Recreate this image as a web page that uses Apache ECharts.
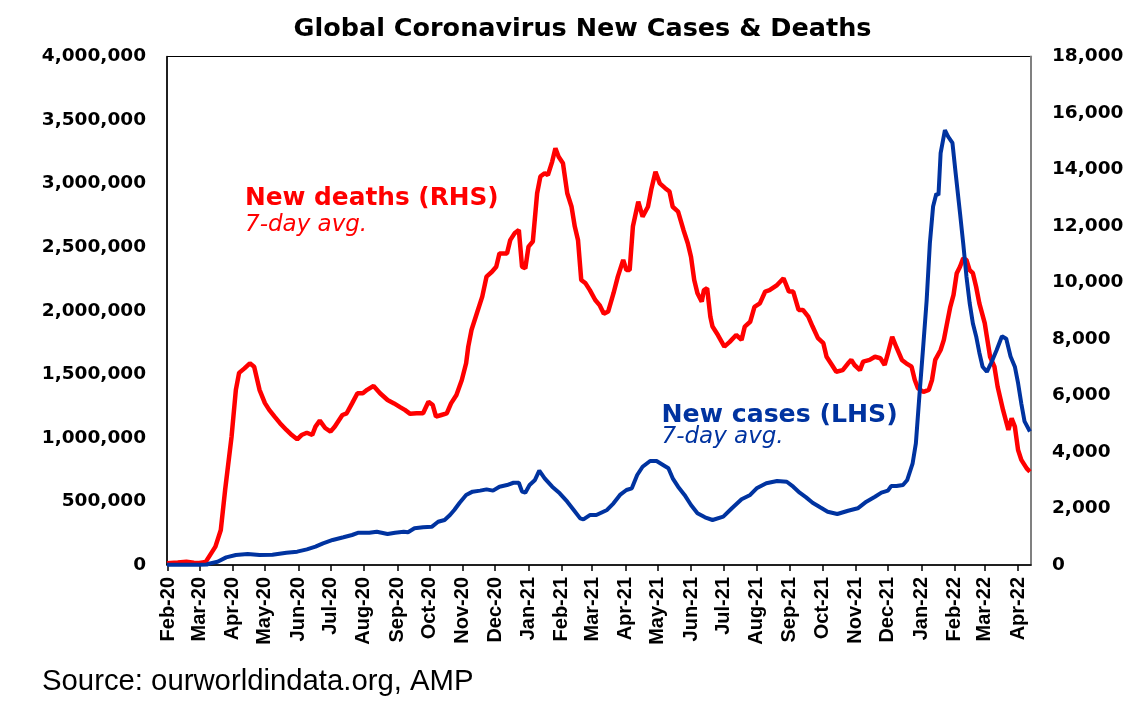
<!DOCTYPE html>
<html>
<head>
<meta charset="utf-8">
<script src="https://cdn.jsdelivr.net/npm/echarts@6.0.0/dist/echarts.min.js"></script>
<style>
  html, body { margin: 0; padding: 0; background: #fff; }
  #chart { width: 1142px; height: 718px; }
</style>
</head>
<body>
<div id="chart"></div>
<script>
// daily categories from 31 Jan 2020 to 13 Apr 2022
var firstDay = Date.UTC(2020, 0, 31);
var lastDay = Date.UTC(2022, 3, 13);
var days = [];
for (var t = firstDay; t <= lastDay; t += 86400000) {
  days.push(new Date(t).toISOString().slice(0, 10));
}
var monthNames = ['Jan', 'Feb', 'Mar', 'Apr', 'May', 'Jun', 'Jul', 'Aug', 'Sep', 'Oct', 'Nov', 'Dec'];

// new deaths, 7-day avg (RHS)
var deaths = [
  ['2020-01-31', 60], ['2020-02-10', 90], ['2020-02-18', 115], ['2020-02-25', 80], ['2020-03-01', 70],
  ['2020-03-07', 110], ['2020-03-16', 650], ['2020-03-21', 1240], ['2020-03-25', 2650], ['2020-03-31', 4540],
  ['2020-04-04', 6200], ['2020-04-07', 6800], ['2020-04-12', 6960], ['2020-04-17', 7140], ['2020-04-21', 7020],
  ['2020-04-26', 6200], ['2020-05-01', 5730], ['2020-05-05', 5490], ['2020-05-10', 5250], ['2020-05-15', 5020],
  ['2020-05-21', 4780], ['2020-05-26', 4600], ['2020-05-31', 4450], ['2020-06-04', 4600], ['2020-06-09', 4680],
  ['2020-06-14', 4600], ['2020-06-17', 4900], ['2020-06-21', 5110], ['2020-06-26', 4850], ['2020-07-01', 4720],
  ['2020-07-05', 4900], ['2020-07-12', 5310], ['2020-07-16', 5370], ['2020-07-21', 5720], ['2020-07-26', 6080],
  ['2020-07-31', 6080], ['2020-08-04', 6200], ['2020-08-10', 6340], ['2020-08-16', 6080], ['2020-08-23', 5840],
  ['2020-08-29', 5720], ['2020-09-04', 5580], ['2020-09-08', 5490], ['2020-09-13', 5350], ['2020-09-19', 5370],
  ['2020-09-25', 5370], ['2020-09-30', 5780], ['2020-10-04', 5660], ['2020-10-07', 5250], ['2020-10-12', 5310],
  ['2020-10-17', 5370], ['2020-10-21', 5720], ['2020-10-26', 6020], ['2020-10-31', 6550], ['2020-11-04', 7140],
  ['2020-11-06', 7730], ['2020-11-09', 8320], ['2020-11-14', 8910], ['2020-11-19', 9500], ['2020-11-23', 10210],
  ['2020-11-28', 10380], ['2020-12-02', 10560], ['2020-12-05', 11030], ['2020-12-12', 11030], ['2020-12-15', 11500],
  ['2020-12-19', 11740], ['2020-12-23', 11860], ['2020-12-26', 10560], ['2020-12-29', 10500], ['2021-01-01', 11270],
  ['2021-01-05', 11450], ['2021-01-09', 13160], ['2021-01-12', 13750], ['2021-01-16', 13870], ['2021-01-19', 13800],
  ['2021-01-23', 14280], ['2021-01-26', 14750], ['2021-01-29', 14450], ['2021-02-02', 14220], ['2021-02-06', 13160],
  ['2021-02-10', 12680], ['2021-02-13', 11980], ['2021-02-16', 11500], ['2021-02-19', 10090], ['2021-02-23', 9970],
  ['2021-02-27', 9730], ['2021-03-04', 9380], ['2021-03-08', 9200], ['2021-03-12', 8890], ['2021-03-16', 8970],
  ['2021-03-21', 9620], ['2021-03-25', 10210], ['2021-03-30', 10800], ['2021-04-02', 10440], ['2021-04-05', 10440],
  ['2021-04-08', 11980], ['2021-04-13', 12860], ['2021-04-17', 12330], ['2021-04-22', 12680], ['2021-04-25', 13280],
  ['2021-04-29', 13920], ['2021-05-03', 13510], ['2021-05-08', 13340], ['2021-05-12', 13220], ['2021-05-15', 12680],
  ['2021-05-20', 12510], ['2021-05-25', 11860], ['2021-05-29', 11390], ['2021-06-01', 10910], ['2021-06-04', 10090],
  ['2021-06-07', 9620], ['2021-06-11', 9320], ['2021-06-13', 9730], ['2021-06-16', 9800], ['2021-06-19', 8790],
  ['2021-06-21', 8440], ['2021-06-26', 8140], ['2021-07-02', 7730], ['2021-07-07', 7900], ['2021-07-13', 8140],
  ['2021-07-18', 7970], ['2021-07-21', 8440], ['2021-07-26', 8610], ['2021-07-30', 9140], ['2021-08-04', 9260],
  ['2021-08-09', 9680], ['2021-08-13', 9730], ['2021-08-20', 9910], ['2021-08-26', 10150], ['2021-08-31', 9680],
  ['2021-09-04', 9680], ['2021-09-09', 9030], ['2021-09-13', 9030], ['2021-09-18', 8790], ['2021-09-22', 8440],
  ['2021-09-27', 8030], ['2021-10-02', 7850], ['2021-10-05', 7370], ['2021-10-10', 7080], ['2021-10-14', 6840],
  ['2021-10-20', 6900], ['2021-10-25', 7140], ['2021-10-28', 7260], ['2021-10-31', 7080], ['2021-11-05', 6900],
  ['2021-11-08', 7200], ['2021-11-14', 7260], ['2021-11-19', 7370], ['2021-11-24', 7320], ['2021-11-28', 7080],
  ['2021-12-01', 7490], ['2021-12-05', 8080], ['2021-12-09', 7700], ['2021-12-14', 7260], ['2021-12-18', 7140],
  ['2021-12-23', 7020], ['2021-12-26', 6550], ['2021-12-29', 6250], ['2022-01-03', 6130], ['2022-01-08', 6200],
  ['2022-01-11', 6550], ['2022-01-14', 7260], ['2022-01-19', 7610], ['2022-01-22', 7970], ['2022-01-25', 8560],
  ['2022-01-28', 9140], ['2022-01-31', 9560], ['2022-02-03', 10330], ['2022-02-06', 10560], ['2022-02-09', 10860],
  ['2022-02-12', 10800], ['2022-02-15', 10440], ['2022-02-18', 10330], ['2022-02-21', 9850], ['2022-02-24', 9260],
  ['2022-03-01', 8560], ['2022-03-03', 8080], ['2022-03-06', 7370], ['2022-03-10', 7020], ['2022-03-13', 6310],
  ['2022-03-18', 5490], ['2022-03-23', 4780], ['2022-03-26', 5190], ['2022-03-29', 4900], ['2022-04-01', 4070],
  ['2022-04-04', 3720], ['2022-04-09', 3420], ['2022-04-12', 3300]
];

// new cases, 7-day avg (LHS)
var cases = [
  ['2020-01-31', 2000], ['2020-02-15', 2500], ['2020-03-01', 2000], ['2020-03-08', 4000], ['2020-03-11', 13000],
  ['2020-03-18', 26000], ['2020-03-26', 60000], ['2020-04-04', 79000], ['2020-04-15', 86000], ['2020-04-26', 79000],
  ['2020-05-08', 81000], ['2020-05-21', 97000], ['2020-05-31', 105000], ['2020-06-09', 123000], ['2020-06-17', 144000],
  ['2020-06-24', 170000], ['2020-07-03', 197000], ['2020-07-13', 218000], ['2020-07-21', 236000], ['2020-07-27', 254000],
  ['2020-08-06', 254000], ['2020-08-13', 262000], ['2020-08-23', 244000], ['2020-08-30', 254000], ['2020-09-07', 262000],
  ['2020-09-11', 258000], ['2020-09-17', 289000], ['2020-09-25', 297000], ['2020-10-03', 300000], ['2020-10-09', 340000],
  ['2020-10-15', 354000], ['2020-10-20', 393000], ['2020-10-24', 433000], ['2020-10-29', 490000], ['2020-11-04', 551000],
  ['2020-11-10', 577000], ['2020-11-17', 585000], ['2020-11-23', 595000], ['2020-11-29', 585000], ['2020-12-05', 616000],
  ['2020-12-12', 629000], ['2020-12-18', 647000], ['2020-12-23', 647000], ['2020-12-26', 577000], ['2020-12-29', 569000],
  ['2021-01-02', 629000], ['2021-01-07', 669000], ['2021-01-11', 742000], ['2021-01-16', 682000], ['2021-01-23', 616000],
  ['2021-01-30', 564000], ['2021-02-06', 498000], ['2021-02-12', 433000], ['2021-02-18', 367000], ['2021-02-21', 359000],
  ['2021-02-27', 393000], ['2021-03-05', 393000], ['2021-03-15', 433000], ['2021-03-21', 485000], ['2021-03-27', 551000],
  ['2021-04-02', 590000], ['2021-04-07', 603000], ['2021-04-12', 708000], ['2021-04-17', 773000], ['2021-04-24', 818000],
  ['2021-04-30', 818000], ['2021-05-06', 787000], ['2021-05-11', 761000], ['2021-05-15', 682000], ['2021-05-20', 616000],
  ['2021-05-26', 551000], ['2021-06-01', 472000], ['2021-06-07', 407000], ['2021-06-14', 375000], ['2021-06-21', 354000],
  ['2021-07-01', 380000], ['2021-07-09', 446000], ['2021-07-18', 517000], ['2021-07-26', 551000], ['2021-08-01', 603000],
  ['2021-08-10', 643000], ['2021-08-20', 661000], ['2021-08-29', 655000], ['2021-09-04', 616000], ['2021-09-10', 569000],
  ['2021-09-16', 532000], ['2021-09-22', 490000], ['2021-09-29', 454000], ['2021-10-06', 419000], ['2021-10-15', 401000],
  ['2021-10-25', 427000], ['2021-11-03', 446000], ['2021-11-11', 498000], ['2021-11-19', 537000], ['2021-11-25', 569000],
  ['2021-12-01', 585000], ['2021-12-04', 621000], ['2021-12-09', 621000], ['2021-12-15', 629000], ['2021-12-19', 669000],
  ['2021-12-24', 800000], ['2021-12-27', 957000], ['2021-12-30', 1300000], ['2022-01-03', 1740000], ['2022-01-06', 2080000],
  ['2022-01-09', 2530000], ['2022-01-12', 2820000], ['2022-01-15', 2920000], ['2022-01-17', 2910000], ['2022-01-19', 3240000],
  ['2022-01-23', 3420000], ['2022-01-26', 3370000], ['2022-01-30', 3320000], ['2022-02-02', 3080000], ['2022-02-06', 2770000],
  ['2022-02-09', 2530000], ['2022-02-12', 2270000], ['2022-02-15', 2060000], ['2022-02-18', 1900000], ['2022-02-21', 1800000],
  ['2022-02-24', 1670000], ['2022-02-27', 1560000], ['2022-03-03', 1520000], ['2022-03-07', 1590000], ['2022-03-12', 1690000],
  ['2022-03-17', 1800000], ['2022-03-21', 1780000], ['2022-03-25', 1640000], ['2022-03-29', 1560000], ['2022-04-01', 1430000],
  ['2022-04-04', 1270000], ['2022-04-07', 1130000], ['2022-04-12', 1050000]
];

var red = '#ff0000';
var blue = '#0033a0';
var boldFace = 'DejaVu Sans';

function isMonthStart(idx, value) {
  return value.slice(8, 10) === '01';
}

var chart = echarts.init(document.getElementById('chart'), null, { renderer: 'canvas' });
chart.setOption({
  animation: false,
  backgroundColor: '#ffffff',
  grid: {
    left: 167, right: 111, top: 56.5, bottom: 153,
    show: true, borderColor: '#000', borderWidth: 1, backgroundColor: 'transparent'
  },
  xAxis: {
    type: 'category',
    data: days,
    boundaryGap: false,
    axisLine: { lineStyle: { color: '#000', width: 1.5 } },
    axisTick: { show: true, interval: isMonthStart, length: 6, lineStyle: { color: '#000', width: 1.5 } },
    axisLabel: {
      interval: isMonthStart,
      rotate: 90,
      margin: 12,
      color: '#000',
      fontFamily: 'Liberation Sans',
      fontWeight: 'bold',
      fontSize: 20,
      formatter: function(v) {
        return monthNames[+v.slice(5, 7) - 1] + '-' + v.slice(2, 4);
      }
    },
    splitLine: { show: false }
  },
  yAxis: [
    {
      type: 'value',
      min: 0, max: 4000000, interval: 500000,
      axisLine: { show: true, lineStyle: { color: '#000', width: 1.5 } },
      axisTick: { show: false },
      splitLine: { show: false },
      axisLabel: {
        margin: 21, color: '#000', fontFamily: boldFace, fontWeight: 'bold', fontSize: 18.5,
        formatter: function(v) { return v.toLocaleString('en-US'); }
      }
    },
    {
      type: 'value',
      min: 0, max: 18000, interval: 2000,
      position: 'right',
      axisLine: { show: true, lineStyle: { color: '#808080', width: 2 } },
      axisTick: { show: false },
      splitLine: { show: false },
      axisLabel: {
        margin: 21, color: '#000', fontFamily: boldFace, fontWeight: 'bold', fontSize: 18.5,
        formatter: function(v) { return v.toLocaleString('en-US'); }
      }
    }
  ],
  series: [
    {
      name: 'New deaths (RHS)',
      type: 'line',
      yAxisIndex: 1,
      data: deaths,
      showSymbol: false,
      lineStyle: { color: red, width: 4.5 },
      z: 2
    },
    {
      name: 'New cases (LHS)',
      type: 'line',
      yAxisIndex: 0,
      data: cases,
      showSymbol: false,
      lineStyle: { color: blue, width: 4 },
      z: 3
    }
  ],
  graphic: [
    {
      type: 'text', x: 582.5, y: 29,
      style: {
        text: 'Global Coronavirus New Cases & Deaths', fill: '#000',
        font: 'bold 25.5px "DejaVu Sans"', align: 'center', verticalAlign: 'middle'
      }
    },
    {
      type: 'text', x: 245, y: 198.5,
      style: { text: 'New deaths (RHS)', fill: red, font: 'bold 24.8px "DejaVu Sans"', align: 'left', verticalAlign: 'middle' }
    },
    {
      type: 'text', x: 245, y: 225,
      style: { text: '7-day avg.', fill: red, font: 'italic 23px "DejaVu Sans"', align: 'left', verticalAlign: 'middle' }
    },
    {
      type: 'text', x: 661.5, y: 415,
      style: { text: 'New cases (LHS)', fill: blue, font: 'bold 25.2px "DejaVu Sans"', align: 'left', verticalAlign: 'middle' }
    },
    {
      type: 'text', x: 661.5, y: 437,
      style: { text: '7-day avg.', fill: blue, font: 'italic 23px "DejaVu Sans"', align: 'left', verticalAlign: 'middle' }
    },
    {
      type: 'text', x: 42, y: 682,
      style: { text: 'Source: ourworldindata.org, AMP', fill: '#000', font: '29.3px "Liberation Sans"', align: 'left', verticalAlign: 'middle' }
    }
  ]
});
</script>
</body>
</html>
